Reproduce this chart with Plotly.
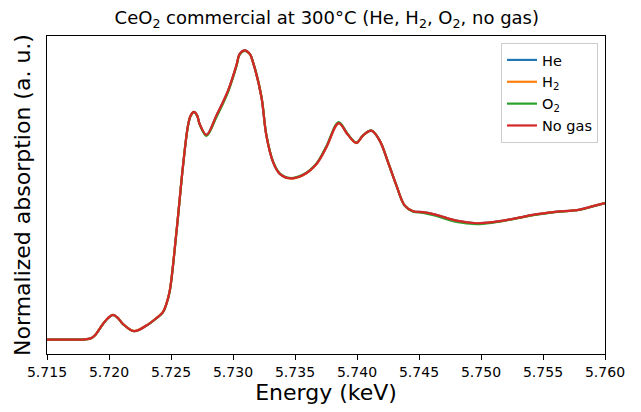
import plotly.graph_objects as go

energy = [5.7150, 5.71683, 5.71804, 5.71860, 5.71885, 5.71952, 5.71992, 5.72032,
          5.72073, 5.72113, 5.72202, 5.72302, 5.72382, 5.72435, 5.72463, 5.72490,
          5.72544, 5.72597, 5.72637, 5.72659, 5.72685, 5.72711, 5.72731, 5.72786,
          5.72866, 5.72960, 5.73027, 5.73054, 5.73094, 5.73135, 5.73161, 5.73229,
          5.73269, 5.73323, 5.73377, 5.73457, 5.73565, 5.73673, 5.73753, 5.73852,
          5.73927, 5.73995, 5.74048, 5.74116, 5.74183, 5.74250, 5.74318, 5.74385,
          5.74452, 5.74532, 5.74640, 5.74802, 5.74963, 5.75097, 5.75258, 5.75419,
          5.75581, 5.75796, 5.75903, 5.7600]

absorption_no_gas = [0.000, 0.000, 0.001, 0.012, 0.029, 0.115, 0.157, 0.181,
                     0.157, 0.114, 0.062, 0.103, 0.157, 0.201, 0.262, 0.357,
                     0.790, 1.276, 1.569, 1.643, 1.669, 1.643, 1.581, 1.501,
                     1.642, 1.826, 2.009, 2.095, 2.120, 2.095, 2.034, 1.779,
                     1.496, 1.301, 1.215, 1.183, 1.207, 1.288, 1.411, 1.587,
                     1.501, 1.442, 1.496, 1.532, 1.459, 1.301, 1.129, 0.982,
                     0.941, 0.934, 0.914, 0.872, 0.853, 0.861, 0.885, 0.914,
                     0.934, 0.953, 0.978, 1.000]

absorption_he = [0.000, 0.000, 0.001, 0.012, 0.029, 0.115, 0.157, 0.181,
                 0.157, 0.114, 0.062, 0.103, 0.157, 0.201, 0.262, 0.357,
                 0.790, 1.276, 1.569, 1.643, 1.669, 1.643, 1.581, 1.501,
                 1.642, 1.826, 2.009, 2.095, 2.120, 2.095, 2.034, 1.779,
                 1.496, 1.301, 1.215, 1.183, 1.207, 1.288, 1.411, 1.587,
                 1.501, 1.442, 1.496, 1.532, 1.459, 1.301, 1.129, 0.982,
                 0.941, 0.934, 0.914, 0.872, 0.853, 0.861, 0.885, 0.914,
                 0.934, 0.953, 0.978, 1.000]

absorption_h2 = [0.000, 0.000, 0.001, 0.012, 0.030, 0.116, 0.158, 0.181,
                 0.157, 0.114, 0.063, 0.104, 0.158, 0.203, 0.264, 0.360,
                 0.792, 1.276, 1.568, 1.642, 1.668, 1.642, 1.580, 1.498,
                 1.638, 1.822, 2.006, 2.093, 2.118, 2.094, 2.034, 1.781,
                 1.499, 1.303, 1.216, 1.181, 1.205, 1.287, 1.410, 1.586,
                 1.501, 1.441, 1.495, 1.531, 1.459, 1.302, 1.130, 0.983,
                 0.941, 0.933, 0.913, 0.870, 0.851, 0.860, 0.884, 0.913,
                 0.934, 0.952, 0.978, 1.001]

absorption_o2 = [0.000, 0.000, 0.001, 0.012, 0.029, 0.114, 0.156, 0.180,
                 0.156, 0.113, 0.062, 0.102, 0.155, 0.199, 0.259, 0.354,
                 0.786, 1.272, 1.566, 1.641, 1.668, 1.641, 1.578, 1.493,
                 1.630, 1.815, 2.002, 2.090, 2.117, 2.095, 2.036, 1.783,
                 1.501, 1.306, 1.219, 1.185, 1.210, 1.292, 1.418, 1.595,
                 1.505, 1.444, 1.497, 1.533, 1.460, 1.302, 1.129, 0.981,
                 0.938, 0.929, 0.906, 0.862, 0.846, 0.857, 0.883, 0.912,
                 0.933, 0.952, 0.977, 1.000]

series_names = ["He", "H<sub>2</sub>", "O<sub>2</sub>", "No gas"]
series_values = [absorption_he, absorption_h2, absorption_o2, absorption_no_gas]
series_colors = ["#1f77b4", "#ff7f0e", "#2ca02c", "#d62728"]

x_ticks = [5.715, 5.720, 5.725, 5.730, 5.735, 5.740, 5.745, 5.750, 5.755, 5.760]
x_tick_labels = ["5.715", "5.720", "5.725", "5.730", "5.735", "5.740",
                 "5.745", "5.750", "5.755", "5.760"]

FONT = "DejaVu Sans"

fig = go.Figure()
for i, (name, vals, col) in enumerate(zip(series_names, series_values, series_colors)):
    fig.add_trace(go.Scatter(
        x=energy, y=vals, mode="lines", name=name,
        line=dict(color=col, width=2.2, shape="spline", smoothing=1.0),
        legendgroup=f"g{i}",
    ))

ymin = min(min(v) for v in series_values)
ymax = max(max(v) for v in series_values)
span = ymax - ymin

fig.update_layout(
    width=641, height=412,
    margin=dict(l=47, r=36, t=36, b=58),
    paper_bgcolor="white", plot_bgcolor="white",
    font=dict(family=FONT, color="black", size=14),
    title=dict(
        text="CeO<sub>2</sub> commercial at 300°C (He, H<sub>2</sub>, O<sub>2</sub>, no gas)",
        x=0.5098, xanchor="center", y=1 - 18 / 412, yanchor="middle",
        font=dict(family=FONT, size=18, color="black"),
    ),
    showlegend=True,
    legend=dict(
        x=0.9875, xanchor="right", y=0.978, yanchor="top",
        bgcolor="rgba(255,255,255,0.8)", bordercolor="#cccccc", borderwidth=1,
        font=dict(family=FONT, size=14.5, color="black"),
        traceorder="grouped", tracegroupgap=0,
        itemwidth=30,
    ),
    xaxis=dict(
        range=[5.715, 5.760],
        tickvals=x_ticks, ticktext=x_tick_labels,
        ticks="outside", ticklen=5, tickwidth=1.1, tickcolor="black",
        showline=True, linecolor="black", linewidth=1.1, mirror=True,
        showgrid=False, zeroline=False,
        tickfont=dict(family=FONT, size=14, color="black"),
        title=dict(text="Energy (keV)", font=dict(family=FONT, size=22, color="black"),
                   standoff=5),
    ),
    yaxis=dict(
        range=[ymin - 0.05 * span, ymax + 0.05 * span],
        showticklabels=False, ticks="",
        showline=True, linecolor="black", linewidth=1.1, mirror=True,
        showgrid=False, zeroline=False,
        title=dict(text="Normalized absorption (a. u.)",
                   font=dict(family=FONT, size=22, color="black"), standoff=9),
    ),
)

fig.write_html("out.html")
